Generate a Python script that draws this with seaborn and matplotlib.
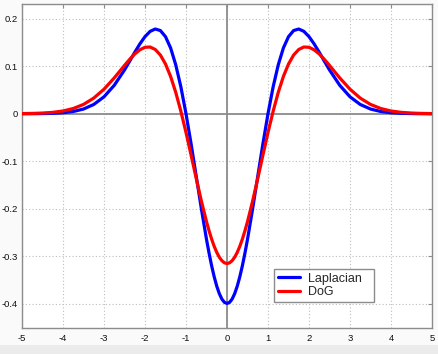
import matplotlib
matplotlib.use("Agg")
import matplotlib.pyplot as plt
import seaborn as sns
import pandas as pd
from matplotlib.patches import Rectangle

# ---- data ----
x_values = [-5.0, -4.75, -4.5, -4.25, -4.0, -3.75, -3.5, -3.25, -3.0, -2.75,
            -2.5, -2.375, -2.25, -2.125, -2.0, -1.875, -1.75, -1.625, -1.5, -1.375,
            -1.25, -1.125, -1.0, -0.875, -0.75, -0.625, -0.5, -0.4375, -0.375, -0.3125,
            -0.25, -0.1875, -0.125, -0.0625,
            0.0,
            0.0625, 0.125, 0.1875, 0.25, 0.3125, 0.375, 0.4375, 0.5, 0.625, 0.75,
            0.875, 1.0, 1.125, 1.25, 1.375, 1.5, 1.625, 1.75, 1.875, 2.0,
            2.125, 2.25, 2.375, 2.5, 2.75, 3.0, 3.25, 3.5, 3.75, 4.0,
            4.25, 4.5, 4.75, 5.0]

laplacian = [0.0000, 0.0001, 0.0003, 0.0008, 0.0020, 0.0046, 0.0098, 0.0194, 0.0355, 0.0597,
             0.0920, 0.1103, 0.1290, 0.1467, 0.1620, 0.1731, 0.1780, 0.1748, 0.1619, 0.1381,
             0.1027, 0.0563, 0.0000, -0.0638, -0.1317, -0.2000, -0.2641, -0.2931, -0.3196, -0.3428,
             -0.3625, -0.3782, -0.3897, -0.3966,
             -0.3989,
             -0.3966, -0.3897, -0.3782, -0.3625, -0.3428, -0.3196, -0.2931, -0.2641, -0.2000, -0.1317,
             -0.0638, 0.0000, 0.0563, 0.1027, 0.1381, 0.1619, 0.1748, 0.1780, 0.1731, 0.1620,
             0.1467, 0.1290, 0.1103, 0.0920, 0.0597, 0.0355, 0.0194, 0.0098, 0.0046, 0.0020,
             0.0008, 0.0003, 0.0001, 0.0000]

dog = [0.0002, 0.0006, 0.0013, 0.0028, 0.0057, 0.0109, 0.0195, 0.0328, 0.0515, 0.0752,
       0.1015, 0.1142, 0.1255, 0.1343, 0.1396, 0.1402, 0.1350, 0.1233, 0.1044, 0.0782,
       0.0448, 0.0051, -0.0395, -0.0874, -0.1363, -0.1836, -0.2269, -0.2462, -0.2636, -0.2788,
       -0.2915, -0.3017, -0.3090, -0.3135,
       -0.3150,
       -0.3135, -0.3090, -0.3017, -0.2915, -0.2788, -0.2636, -0.2462, -0.2269, -0.1836, -0.1363,
       -0.0874, -0.0395, 0.0051, 0.0448, 0.0782, 0.1044, 0.1233, 0.1350, 0.1402, 0.1396,
       0.1343, 0.1255, 0.1142, 0.1015, 0.0752, 0.0515, 0.0328, 0.0195, 0.0109, 0.0057,
       0.0028, 0.0013, 0.0006, 0.0002]

series_names = ["Laplacian", "DoG"]
series_colors = ["#0000ff", "#ff0000"]
x_ticks = [-5, -4, -3, -2, -1, 0, 1, 2, 3, 4, 5]
x_tick_labels = ["-5", "-4", "-3", "-2", "-1", "0", "1", "2", "3", "4", "5"]
y_ticks = [-0.4, -0.3, -0.2, -0.1, 0.0, 0.1, 0.2]
y_tick_labels = ["-0.4", "-0.3", "-0.2", "-0.1", "0", "0.1", "0.2"]

df = pd.DataFrame({
    "x": x_values * 2,
    "y": laplacian + dog,
    "series": [series_names[0]] * len(x_values) + [series_names[1]] * len(x_values),
})

sns.set_style("white")
plt.rcParams["font.family"] = ["Liberation Sans", "DejaVu Sans"]

fig = plt.figure(figsize=(4.38, 3.54), dpi=100, facecolor="#f9faf9")
fig.patches.append(Rectangle((0, 0), 1, 9 / 354, transform=fig.transFigure,
                             facecolor="#ebebeb", edgecolor="none", zorder=0))
ax = fig.add_axes([22 / 438, 26 / 354, 410 / 438, 324 / 354])
ax.set_facecolor("white")

# zero axes lines
ax.axhline(0, color="#8c8c8c", lw=1.3, zorder=1)
ax.axvline(0, color="#8c8c8c", lw=1.3, zorder=1)

sns.lineplot(data=df, x="x", y="y", hue="series", palette=series_colors,
             hue_order=series_names, sort=False, lw=2.3, ax=ax, zorder=3,
             solid_joinstyle="round", solid_capstyle="round")

ax.set_xlim(-5, 5)
ax.set_ylim(-0.4505, 0.2306)
ax.set_xticks(x_ticks)
ax.set_xticklabels(x_tick_labels)
ax.set_yticks(y_ticks)
ax.set_yticklabels(y_tick_labels)
ax.set_xlabel("")
ax.set_ylabel("")
ax.grid(True, linestyle=(0, (1, 2)), color="#bdbdbd", lw=0.8)
ax.tick_params(axis="both", direction="in", length=3, width=0.8, color="#8c8c8c",
               labelsize=6.8, labelcolor="#111111", top=True, right=True)
ax.tick_params(axis="x", pad=4.2)
ax.tick_params(axis="y", pad=3)
for s in ax.spines.values():
    s.set_color("#8c8c8c")
    s.set_linewidth(1.0)

leg = ax.legend(loc="lower left", bbox_to_anchor=(0.615, 0.081, 0.244, 0.1),
                mode="expand", borderaxespad=0,
                fontsize=9, handlelength=1.75, handletextpad=0.65, labelspacing=0.1,
                borderpad=0.3, fancybox=False, framealpha=1, edgecolor="#8c8c8c")
leg.get_frame().set_linewidth(1.0)
for line in leg.get_lines():
    line.set_linewidth(2.3)

fig.savefig("out.png", dpi=100, facecolor=fig.get_facecolor())
